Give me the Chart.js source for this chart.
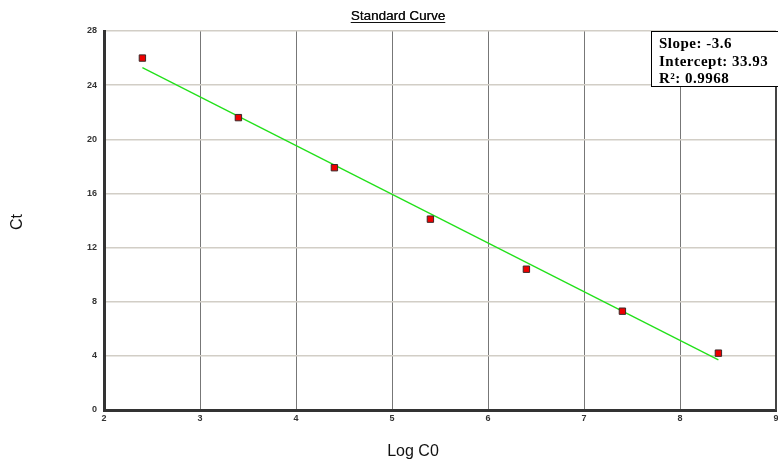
<!DOCTYPE html>
<html><head><meta charset="utf-8">
<script src="https://cdn.jsdelivr.net/npm/chart.js@4/dist/chart.umd.min.js"></script>
<style>html,body{margin:0;padding:0;background:#fff}#wrap{width:778px;height:466px}</style>
</head><body><div id="wrap"><canvas id="c" width="778" height="466"></canvas></div>
<script>
const logC0 = [2.4, 3.4, 4.4, 5.4, 6.4, 7.4, 8.4];
const ctValues = [26.0, 21.6, 17.9, 14.1, 10.4, 7.3, 4.2];
const fitX = [2.4, 8.4];
const fitY = [25.3, 3.7];
const statLines = ["Slope: -3.6", "Intercept: 33.93", "R²: 0.9968"];
const chartTitle = "Standard Curve";
const xTitle = "Log C0";
const yTitle = "Ct";

const deco = {
  id: 'deco',
  afterDraw(chart) {
    const ctx = chart.ctx, a = chart.chartArea;
    ctx.save();
    // right border
    ctx.strokeStyle = '#444'; ctx.lineWidth = 2;
    ctx.beginPath(); ctx.moveTo(a.right, a.top); ctx.lineTo(a.right, a.bottom); ctx.stroke();
    // title
    ctx.fillStyle = '#111';
    ctx.font = '13.5px "Liberation Sans", Arial, sans-serif';
    ctx.textAlign = 'center'; ctx.textBaseline = 'alphabetic';
    const tx = 398, ty = 20;
    ctx.fillText(chartTitle, tx, ty);
    ctx.fillText(chartTitle, tx + 0.3, ty);
    const w = ctx.measureText(chartTitle).width;
    ctx.lineWidth = 1; ctx.strokeStyle = '#111';
    ctx.beginPath(); ctx.moveTo(tx - w/2, ty + 2.5); ctx.lineTo(tx + w/2, ty + 2.5); ctx.stroke();
    // axis titles
    ctx.font = '16px "Liberation Sans", Arial, sans-serif';
    ctx.textBaseline = 'middle';
    ctx.fillText(xTitle, 413, 452);
    ctx.save(); ctx.translate(18, 222); ctx.rotate(-Math.PI/2); ctx.fillText(yTitle, 0, 0); ctx.restore();
    // stats box
    const bx = 651.5, by = 31.5, bw = 140, bh = 55;
    ctx.fillStyle = '#fff'; ctx.fillRect(bx, by, bw, bh);
    ctx.strokeStyle = '#000'; ctx.lineWidth = 1; ctx.strokeRect(bx, by, bw, bh);
    ctx.fillStyle = '#000';
    ctx.font = 'bold 15px "Liberation Serif", "Times New Roman", serif';
    if ('letterSpacing' in ctx) ctx.letterSpacing = '0.5px';
    ctx.textAlign = 'left'; ctx.textBaseline = 'alphabetic';
    ctx.fillText(statLines[0], 659, 48);
    ctx.fillText(statLines[1], 659, 65.5);
    ctx.fillText(statLines[2], 659, 83);
    ctx.restore();
  }
};

new Chart(document.getElementById('c'), {
  type: 'scatter',
  data: {
    datasets: [
      {
        type: 'line',
        data: fitX.map((x, i) => ({x, y: fitY[i]})),
        borderColor: '#22e01a', borderWidth: 1.3, pointRadius: 0, fill: false, order: 2
      },
      {
        data: logC0.map((x, i) => ({x, y: ctValues[i]})),
        pointStyle: 'rect', pointRadius: 4.5, backgroundColor: '#ee0000',
        borderColor: '#3a2a2a', borderWidth: 1, order: 1
      }
    ]
  },
  options: {
    responsive: false, animation: false,
    layout: { autoPadding: false, padding: { top: 31, right: 2, left: 0, bottom: 0 } },
    plugins: { legend: { display: false }, tooltip: { enabled: false } },
    scales: {
      x: {
        type: 'linear', min: 2, max: 9,
        ticks: { stepSize: 1, color: '#333', font: { size: 9, weight: 'bold', family: '"Liberation Sans", Arial' }, padding: 3, maxRotation: 0 },
        grid: { color: '#777', lineWidth: 1, drawTicks: false },
        border: { color: '#333', width: 3 },
        afterFit(s) { s.height = 56; s.paddingRight = 0; s.paddingLeft = 0; }
      },
      y: {
        min: 0, max: 28,
        ticks: { stepSize: 4, color: '#333', font: { size: 9, weight: 'bold', family: '"Liberation Sans", Arial' }, padding: 7 },
        grid: { color: '#d2cec6', lineWidth: 1.5, drawTicks: false },
        border: { color: '#333', width: 3 },
        afterFit(s) { s.width = 104; s.paddingTop = 0; s.paddingBottom = 0; }
      }
    }
  },
  plugins: [deco]
});
</script>
</body></html>
